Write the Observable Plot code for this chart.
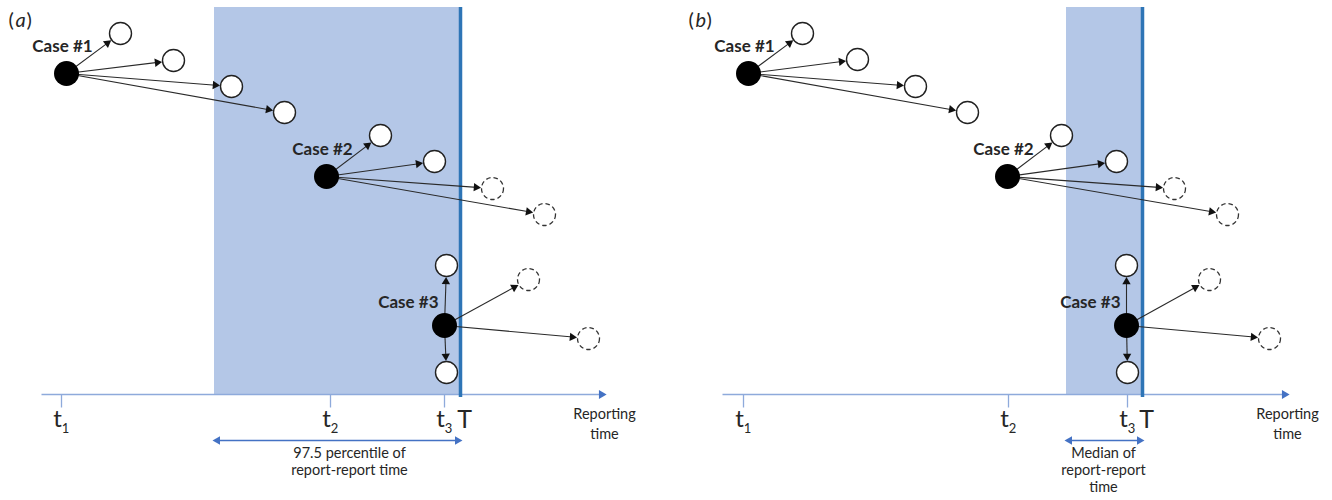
<!DOCTYPE html>
<html><head><meta charset="utf-8">
<script src="https://cdn.jsdelivr.net/npm/d3@7"></script>
<script src="https://cdn.jsdelivr.net/npm/@observablehq/plot@0.6"></script>
<style>body{margin:0;background:#fff}#chart svg{display:block}</style>
</head><body><div id="chart"></div>
<script>
// ---------- data (diagram units: reporting time along x, layout row along y) ----------
const panelLetter = ["a", "b"];
const panelLabelTime = [8, 688];
const axisStart = [41, 722];
const axisEnd = [604, 1287];
const cutoffT = [460, 1142];                 // "T"
const windowStart = [214, 1066];             // start of shaded window
const windowText = ["97.5 percentile of\nreport-report time", "Median of\nreport-report\ntime"];
const windowTextTime = [349, 1103];

const tickTime = [61, 330, 444, 743, 1008, 1127];
const tickSub = ["1", "2", "3", "1", "2", "3"];

const caseName = ["Case #1", "Case #2", "Case #3", "Case #1", "Case #2", "Case #3"];
const caseTime = [66, 326, 444, 748, 1007, 1126];
const caseRow = [73, 176, 325, 73, 176, 325];

const contactCase = [0,0,0,0, 1,1,1,1, 2,2,2,2, 3,3,3,3, 4,4,4,4, 5,5,5,5];
const contactTime = [120,173,231,284, 380,434,492,544, 446,446,528,588,
                     802,857,915,967, 1061,1116,1174,1227, 1126,1127,1209,1269];
const contactRow  = [33,60,86,112, 135,161,188,214, 265,372,279,338,
                     33,59,86,112, 135,161,188,214, 265,372,279,338];
const contactReported = [1,1,1,1, 1,1,0,0, 1,1,0,0, 1,1,1,1, 1,1,0,0, 1,1,0,0];

// ---------- layout ----------
const W = 1332, H = 500;
const TOP = 7, AXIS_Y = 394;
const R_CONTACT = 11, R_CASE = 12.5;
const HEAD_R = 3.1;
const headSize = Math.PI * HEAD_R * HEAD_R;
const headH = 3 * Math.sqrt(headSize / (3 * Math.sqrt(3)));

function head(x0, y0, x1, y1, gap) {
  const dx = x1 - x0, dy = y1 - y0, L = Math.hypot(dx, dy);
  const ux = dx / L, uy = dy / L;
  const tx = x1 - ux * gap, ty = y1 - uy * gap;
  return {x0, y0, tx, ty, lx: tx - ux * headH * 0.6, ly: ty - uy * headH * 0.6,
          cx: tx - ux * headH * 2 / 3, cy: ty - uy * headH * 2 / 3,
          angle: Math.atan2(ux, -uy) * 180 / Math.PI};
}

const cases = caseTime.map((x, i) => ({x, y: caseRow[i], name: caseName[i], idx: i % 3}));
const contacts = contactTime.map((x, i) => ({x, y: contactRow[i], reported: contactReported[i] === 1, from: cases[contactCase[i]]}));
const arrows = contacts.map(c => head(c.from.x, c.from.y, c.x, c.y, R_CONTACT + 0.5));

const panels = panelLetter.map((letter, i) => ({
  letter, px: panelLabelTime[i], a0: axisStart[i], a1: axisEnd[i], T: cutoffT[i],
  w0: windowStart[i], wText: windowText[i], wx: windowTextTime[i]
}));
const ticks = tickTime.map((x, i) => ({x, sub: tickSub[i]}));

const AX = "#8eaadb", BLUE = "#4472c4", INK = "#262626";
const DBL_Y = 440;

const plot = Plot.plot({
  width: W, height: H,
  margin: 0,
  x: {type: "linear", domain: [0, W], range: [0, W], axis: null},
  y: {type: "linear", domain: [0, H], range: [0, H], axis: null},
  style: {fontFamily: "Lato, 'Open Sans', sans-serif", background: "#fff"},
  marks: [
    // shaded window
    Plot.rect(panels, {x1: "w0", x2: "T", y1: () => TOP, y2: () => AXIS_Y, fill: "#b4c7e7"}),
    // time axis
    Plot.link(panels, {x1: "a0", x2: d => d.a1 - 4, y1: () => AXIS_Y, y2: () => AXIS_Y, stroke: AX, strokeWidth: 1.6}),
    Plot.dot(panels, {x: d => d.a1 - 3, y: () => AXIS_Y, symbol: "triangle", r: 3.3, rotate: 90, fill: BLUE, stroke: "none"}),
    Plot.link(ticks, {x1: "x", x2: "x", y1: () => AXIS_Y, y2: () => AXIS_Y + 13, stroke: AX, strokeWidth: 1.3}),
    // cutoff T
    Plot.ruleX(panels, {x: "T", y1: () => TOP, y2: () => AXIS_Y + 3, stroke: "#2e75b6", strokeWidth: 3.5}),
    // transmission arrows
    Plot.link(arrows, {x1: "x0", y1: "y0", x2: "lx", y2: "ly", stroke: "#2a2a2a", strokeWidth: 1.1}),
    Plot.dot(arrows, {x: "cx", y: "cy", symbol: "triangle", r: HEAD_R, rotate: "angle", fill: "#111", stroke: "none"}),
    // contacts
    Plot.dot(contacts.filter(d => d.reported), {x: "x", y: "y", r: R_CONTACT, fill: "#fff", stroke: "#222", strokeWidth: 1.4}),
    Plot.dot(contacts.filter(d => !d.reported), {x: "x", y: "y", r: R_CONTACT, fill: "#fff", stroke: "#333", strokeWidth: 1.3, strokeDasharray: "4.5,3"}),
    // cases
    Plot.dot(cases, {x: "x", y: "y", r: R_CASE, fill: "#000", stroke: "none"}),
    Plot.text(cases.filter(d => d.idx < 2), {x: d => d.x - 4, y: d => d.y - 27, text: "name", fontSize: 17, fontWeight: "bold", fill: INK}),
    Plot.text(cases.filter(d => d.idx === 2), {x: d => d.x - 6, y: d => d.y - 23, text: "name", textAnchor: "end", fontSize: 17, fontWeight: "bold", fill: INK}),
    // tick labels
    Plot.text(ticks, {x: d => d.x - 4, y: () => 419, text: () => "t", fontSize: 24, fill: INK}),
    Plot.text(ticks, {x: d => d.x + 4, y: () => 428, text: "sub", fontSize: 13, fill: INK}),
    Plot.text(panels, {x: d => d.T + 4, y: () => 419, text: () => "T", fontSize: 25, fill: INK}),
    Plot.text(panels, {x: "a1", y: () => 404, text: () => "Reporting\ntime", lineAnchor: "top", lineHeight: 1.4, fontSize: 14.5, fill: INK}),
    // window span arrow and text
    Plot.link(panels, {x1: d => d.w0 + 5, x2: d => d.T - 5, y1: () => DBL_Y, y2: () => DBL_Y, stroke: BLUE, strokeWidth: 1.4}),
    Plot.dot(panels, {x: d => d.w0 + 3, y: () => DBL_Y, symbol: "triangle", r: 3.2, rotate: -90, fill: BLUE, stroke: "none"}),
    Plot.dot(panels, {x: d => d.T - 3, y: () => DBL_Y, symbol: "triangle", r: 3.2, rotate: 90, fill: BLUE, stroke: "none"}),
    Plot.text(panels, {x: "wx", y: () => 445, text: "wText", lineAnchor: "top", lineHeight: 1.18, fontSize: 14.5, fill: INK}),
    // panel labels: "(" italic letter ")"
    Plot.text(panels, {x: "px", y: () => 20, text: () => "(", textAnchor: "start", fontSize: 20, fill: INK}),
    Plot.text(panels, {x: d => d.px + 7, y: () => 20, text: "letter", textAnchor: "start", fontSize: 20, fontStyle: "italic", fill: INK}),
    Plot.text(panels, {x: d => d.px + 18, y: () => 20, text: () => ")", textAnchor: "start", fontSize: 20, fill: INK})
  ]
});
document.getElementById("chart").appendChild(plot);
</script>
</body></html>
